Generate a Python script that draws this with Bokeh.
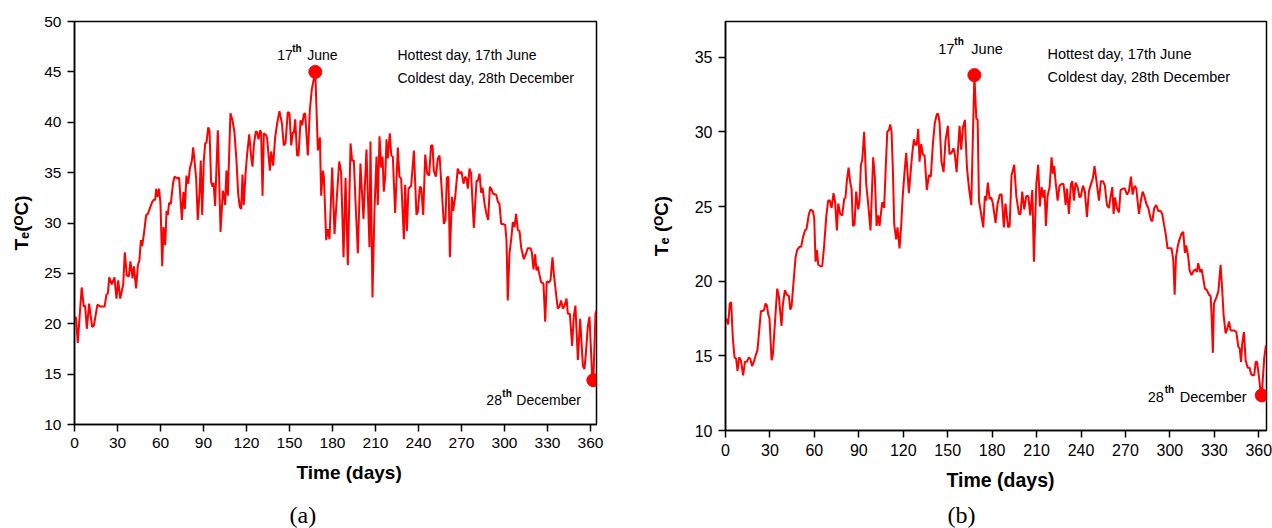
from bokeh.plotting import figure
from bokeh.layouts import row
from bokeh.models import Range1d, FixedTicker, Label, Title
from bokeh.core.properties import value
from bokeh.embed import file_html
from bokeh.resources import INLINE

# ---------------- data ----------------
x_ticks = [0, 30, 60, 90, 120, 150, 180, 210, 240, 270, 300, 330, 360]
y_ticks_a = [10, 15, 20, 25, 30, 35, 40, 45, 50]
y_ticks_b = [10, 15, 20, 25, 30, 35]

days_a = [1.0, 2.3, 5.0, 6.5, 7.4, 8.6, 10.2, 12.3, 13.5, 16.0, 18.0, 21.0, 22.3, 23.3, 24.2, 26.0,
          27.9, 29.3, 30.5, 31.9, 34.0, 35.1, 36.5, 37.9, 39.0, 40.5, 41.4, 43.0, 44.2, 45.3, 46.3,
          47.2, 48.4, 50.0, 51.2, 54.2, 55.3, 56.3, 57.0, 57.9, 59.0, 60.0, 61.2, 62.1, 63.3, 64.2,
          65.1, 66.0, 67.2, 68.8, 69.8, 70.9, 72.1, 73.0, 74.9, 76.0, 77.0, 78.1, 79.3, 80.5, 81.9,
          82.8, 83.7, 84.9, 86.0, 87.2, 88.1, 89.1, 90.2, 91.2, 92.1, 93.3, 94.2, 95.3, 96.3, 97.0,
          98.1, 100.0, 101.9, 103.5, 104.4, 105.1, 106.0, 107.0, 108.8, 110.2, 111.6, 113.0, 114.2,
          115.3, 116.3, 117.2, 118.1, 119.5, 120.5, 121.9, 123.3, 124.2, 125.1, 126.5, 127.4, 128.4,
          129.5, 130.2, 131.2, 132.1, 133.7, 134.4, 136.3, 137.2, 138.6, 140.0, 141.4, 143.0, 144.7,
          146.0, 147.2, 148.8, 150.0, 151.2, 152.3, 153.0, 154.0, 155.3, 156.3, 157.7, 158.8, 160.0,
          160.9, 162.8, 164.2, 165.6, 168.0, 169.8, 171.2, 172.1, 173.3, 174.0, 175.6, 176.7, 177.9,
          179.8, 181.4, 182.6, 184.7, 186.0, 187.7, 189.1, 190.7, 192.6, 193.7, 194.9, 196.0, 197.7,
          199.5, 201.6, 203.7, 205.8, 206.5, 207.9, 209.3, 210.7, 211.6, 212.8, 214.0, 214.9, 215.8,
          216.8, 217.7, 218.6, 220.0, 221.0, 222.1, 223.7, 225.6, 226.7, 227.9, 229.8, 230.7, 231.9,
          233.0, 234.9, 236.8, 238.6, 239.5, 241.0, 241.9, 243.3, 244.7, 246.1, 247.4, 248.8, 249.8,
          250.7, 252.1, 253.5, 254.7, 256.3, 257.7, 258.8, 259.8, 260.9, 261.9, 263.3, 264.2, 265.6,
          267.4, 268.6, 270.0, 271.4, 272.6, 273.5, 274.4, 275.6, 276.7, 278.6, 280.5, 281.4, 282.6,
          283.7, 284.7, 286.1, 287.4, 288.6, 289.8, 290.7, 292.1, 294.2, 295.4, 296.5, 297.7, 298.8,
          300.5, 301.4, 302.3, 303.5, 304.7, 305.8, 307.0, 308.1, 309.3, 310.5, 311.6, 313.5, 315.1,
          316.3, 318.1, 319.1, 320.2, 321.4, 322.3, 323.3, 324.2, 325.6, 327.2, 328.4, 329.5, 330.7,
          332.1, 333.5, 334.4, 335.8, 337.2, 338.4, 339.5, 340.7, 341.9, 343.3, 344.2, 345.6, 347.2,
          348.4, 349.5, 351.2, 352.8, 354.7, 355.8, 357.0, 358.1, 359.3, 361.2, 362.0, 363.5, 364.2]
temp_a = [20.7, 18.1, 23.6, 21.7, 21.8, 19.5, 22.0, 19.7, 19.8, 21.9, 21.7, 21.7, 22.9, 23.0, 24.6, 23.9,
          24.6, 22.5, 24.3, 22.5, 23.9, 27.1, 24.8, 24.7, 26.2, 24.5, 25.7, 23.5, 25.8, 26.3, 28.3,
          27.7, 28.9, 30.8, 30.9, 32.1, 32.3, 32.3, 33.4, 32.6, 33.4, 31.9, 25.7, 29.6, 27.8, 31.2,
          30.8, 32.0, 31.9, 34.0, 34.6, 34.5, 34.4, 34.5, 30.3, 33.1, 31.4, 34.7, 33.9, 35.4, 36.2,
          37.5, 36.2, 34.4, 30.3, 32.9, 36.2, 30.8, 36.2, 37.9, 38.0, 39.5, 39.2, 34.1, 33.6, 34.0,
          31.7, 39.2, 29.1, 33.2, 32.6, 31.8, 35.2, 32.7, 40.9, 40.2, 39.0, 36.2, 32.9,
          31.6, 31.4, 34.8, 31.8, 35.2, 36.9, 38.8, 36.5, 35.6, 37.7, 39.1, 39.0, 38.3,
          39.2, 39.0, 32.7, 38.9, 38.7, 38.4, 35.2, 37.1, 35.7, 38.5, 39.9, 41.1, 39.9,
          37.7, 37.9, 41.0, 40.9, 37.7, 39.0, 38.9, 40.3, 36.7, 36.7, 40.2, 39.7, 40.8,
          40.9, 36.7, 41.2, 43.3, 45.0, 37.2, 38.5, 32.7, 35.2, 34.6, 28.3, 29.4, 28.4,
          35.5, 28.9, 31.6, 36.1, 35.1, 26.6, 34.5, 25.8, 37.9, 36.2, 36.2, 32.3, 27.0,
          35.9, 30.4, 37.3, 27.6, 38.1, 22.6, 31.3, 36.6, 31.8, 38.6, 35.5, 36.6, 33.1,
          34.6, 38.3, 36.4, 38.9, 36.7, 36.6, 31.0, 37.5, 34.6, 34.4, 28.4, 33.8, 29.2,
          33.4, 33.7, 37.2, 30.8, 31.1, 33.6, 33.5, 30.8, 36.8, 34.9, 34.7, 37.7, 37.7,
          35.2, 34.6, 36.4, 36.7, 33.1, 29.9, 30.3, 34.5, 34.6, 26.6, 32.6, 31.2, 32.6,
          35.4, 34.9, 35.1, 33.9, 34.6, 34.4, 33.4, 35.4, 34.9, 29.5, 34.2, 34.2, 34.9,
          33.0, 33.5, 31.9, 30.9, 30.3, 33.6, 33.4, 32.9, 32.8, 32.1, 31.9, 29.9, 29.9,
          29.8, 28.3, 22.3, 27.0, 28.4, 30.1, 29.6, 30.9, 29.3, 29.2, 27.6, 26.4, 27.0,
          27.5, 27.5, 27.1, 25.4, 26.9, 25.3, 25.7, 25.0, 24.1, 24.0, 20.2, 24.2, 24.1,
          24.3, 26.6, 25.0, 23.2, 21.5, 21.7, 22.3, 21.5, 21.8, 22.5, 21.0, 21.0, 17.8,
          20.8, 21.8, 16.4, 20.5, 15.8, 15.5, 17.4, 19.7, 20.7, 14.7, 14.4, 21.0, 21.3]

days_b = [0.5, 1.8, 2.9, 3.8, 5.0, 6.1, 7.2, 8.1, 9.2, 10.4, 11.9, 13.1, 14.4, 15.8, 16.7, 18.0, 19.4,
          20.3, 21.6, 22.5, 23.9, 25.2, 26.1, 27.0, 27.9, 28.8, 29.7, 31.1, 32.0, 33.3, 34.9, 36.0,
          37.8, 38.7, 40.1, 41.4, 42.8, 43.7, 44.6, 45.9, 47.3, 48.4, 50.0, 51.1, 52.2, 53.6, 54.7,
          56.3, 57.4, 59.0, 59.9, 60.8, 61.7, 62.6, 64.1, 65.3, 66.6, 68.0, 69.3, 70.4, 71.6, 72.9,
          74.0, 75.2, 76.1, 77.4, 78.8, 80.1, 81.0, 81.9, 83.1, 84.2, 85.1, 86.0, 87.1, 88.2, 89.6,
          90.5, 91.4, 92.3, 93.6, 95.0, 96.3, 97.9, 99.7, 100.8, 102.0, 103.1, 104.0, 104.9, 105.8,
          107.1, 108.0, 109.2, 110.3, 111.2, 112.1, 113.0, 113.9, 115.2, 116.1, 117.5, 118.6, 119.7,
          121.1, 122.0, 122.9, 123.8, 124.9, 126.0, 127.2, 128.3, 129.2, 130.1, 131.0, 132.1, 133.2,
          134.4, 135.0, 135.9, 137.3, 138.6, 140.0, 141.3, 142.7, 143.6, 144.5, 145.8, 147.2, 148.5,
          150.1, 151.2, 152.6, 153.9, 154.8, 156.0, 156.9, 158.0, 159.1, 160.3, 161.6, 163.0, 164.3,
          165.9, 168.0, 169.3, 170.2, 171.1, 172.4, 174.0, 175.1, 176.0, 177.1, 178.3, 179.4, 180.5,
          182.3, 183.7, 185.2, 186.4, 187.9, 189.0, 190.8, 191.8, 193.1, 194.9, 196.3, 198.1, 199.2,
          200.3, 201.7, 203.0, 204.4, 205.7, 207.1, 208.2, 209.8, 211.1, 212.2, 213.4, 214.5, 215.4,
          216.3, 217.4, 218.8, 220.1, 221.0, 221.9, 222.8, 224.2, 225.5, 226.9, 228.2, 229.6, 230.5,
          231.8, 233.2, 234.1, 235.2, 236.3, 237.7, 239.0, 239.9, 241.3, 242.6, 244.0, 245.3, 246.7,
          248.0, 249.1, 250.3, 252.1, 253.4, 254.8, 256.1, 257.5, 258.8, 260.2, 261.1, 262.0, 262.9,
          264.2, 265.6, 266.7, 268.3, 269.6, 271.0, 272.3, 273.7, 274.8, 276.2, 277.3, 279.1, 280.4,
          281.6, 282.7, 284.0, 285.4, 287.2, 288.1, 289.4, 290.8, 292.1, 293.7, 294.8, 296.0, 297.1,
          298.4, 299.8, 301.1, 302.3, 303.2, 304.1, 305.4, 306.5, 307.9, 309.0, 310.1, 311.0, 312.4,
          313.3, 314.6, 316.0, 317.3, 318.2, 319.1, 320.5, 321.4, 322.3, 323.6, 325.0, 326.3, 327.5,
          328.1, 329.0, 329.7, 331.3, 332.7, 334.2, 335.3, 336.2, 337.6, 338.7, 339.9, 341.0, 342.1,
          343.5, 344.8, 346.2, 347.1, 348.0, 348.9, 350.0, 351.1, 352.5, 353.8, 354.7, 355.6, 356.9,
          357.9, 358.8, 360.1, 361.2, 362.0, 363.7, 364.8]
temp_b = [17.5, 17.1, 18.5, 18.6, 16.1, 14.9, 14.8, 14.0, 14.9, 14.7, 13.7, 14.6, 14.6, 14.9, 14.8, 14.3, 14.7,
          15.0, 15.4, 16.4, 18.0, 18.0, 18.1, 18.5, 18.4, 17.8, 17.5, 14.7, 15.1, 17.1, 19.5, 19.0,
          17.0, 18.4, 19.4, 19.1, 19.0, 18.1, 18.3, 19.9, 21.6, 22.1, 22.3, 22.3, 22.9, 23.4, 23.5,
          24.5, 24.8, 24.7, 24.2, 21.3, 22.1, 21.1, 21.0, 21.0, 22.4, 24.3, 25.4, 25.4, 24.9, 25.9,
          25.3, 23.4, 25.2, 24.5, 24.4, 25.5, 25.6, 26.7, 27.6, 26.6, 26.2, 23.7, 23.8, 26.0, 24.8,
          25.4, 27.8, 28.1, 30.0, 26.5, 25.2, 23.4, 28.3, 27.0, 23.7, 24.4, 23.7, 24.5, 25.3,
          24.9, 27.2, 30.0, 30.1, 30.5, 30.0, 27.4, 23.8, 22.8, 23.6, 22.2, 23.7, 25.8,
          27.6, 28.6, 27.2, 25.9, 27.2, 28.5, 29.5, 29.1, 29.2, 30.2, 28.0, 29.2, 28.5,
          28.4, 27.5, 26.1, 27.1, 27.0, 29.2, 30.6, 31.2, 31.2, 30.6, 28.0, 27.3, 29.4,
          30.4, 28.5, 28.6, 28.9, 28.5, 27.3, 28.7, 30.4, 28.8, 30.3, 30.8, 27.6, 26.3,
          25.1, 33.8, 30.9, 30.8, 25.4, 24.6, 23.6, 25.7, 25.4, 26.6, 25.5, 25.6, 25.2,
          23.9, 25.2, 25.8, 25.8, 23.6, 25.2, 23.6, 23.7, 27.1, 27.8, 25.7, 24.5, 24.5,
          26.0, 24.8, 25.7, 25.7, 24.4, 26.1, 21.3, 26.5, 27.8, 25.0, 26.3, 25.6, 26.1,
          23.7, 25.7, 26.3, 28.3, 27.2, 27.7, 26.7, 25.4, 26.4, 26.5, 26.5, 25.1, 26.2,
          24.5, 26.5, 26.7, 25.4, 26.6, 26.3, 25.6, 25.7, 26.4, 26.0, 24.3, 26.0, 26.5,
          26.9, 27.7, 26.8, 25.4, 26.7, 26.7, 26.4, 25.1, 24.9, 25.8, 26.3, 24.5, 25.6,
          24.9, 24.6, 26.1, 26.2, 26.2, 25.8, 26.0, 27.0, 25.8, 26.4, 26.2, 24.5, 25.4,
          26.0, 25.7, 25.2, 24.9, 24.1, 24.0, 24.9, 25.1, 24.7, 24.7, 24.5, 23.8, 23.2,
          22.2, 22.2, 22.2, 21.4, 19.1, 21.6, 22.4, 22.8, 23.2, 23.3, 21.9, 22.4, 21.6,
          20.7, 20.4, 20.7, 20.8, 20.6, 21.2, 20.6, 20.8, 20.3, 19.5, 19.4, 19.1, 19.0,
          17.8, 15.2, 18.5, 18.9, 19.3, 21.1, 19.4, 17.8, 16.5, 16.8, 17.3, 16.7, 16.7,
          16.7, 16.6, 15.6, 15.5, 14.6, 15.9, 16.6, 14.7, 14.2, 14.2, 13.8, 13.7, 13.7,
          14.6, 14.6, 13.6, 12.6, 12.35, 14.9, 15.7]

hot_day_a, hot_temp_a = [168], [45.0]
cold_day_a, cold_temp_a = [362], [14.4]
hot_day_b, hot_temp_b = [168], [33.8]
cold_day_b, cold_temp_b = [362], [12.35]

hot_label = ["17", "th", "June"]
cold_label = ["28", "th", "December"]
info_lines = ["Hottest day, 17th June", "Coldest day, 28th December"]
x_title = "Time (days)"
y_title_a = "Tₑ(ᴼC)"
y_title_b = "Tₑ (ᴼC)"
panel_tags = ["(a)", "(b)"]

FONT = "Liberation Sans"
RED = "#ff0000"


def style(p, y_ticks, tick_size, ylab_standoff):
    p.background_fill_color = "white"
    p.border_fill_color = "white"
    p.outline_line_color = "black"
    p.outline_line_width = 1.5
    p.xgrid.grid_line_color = None
    p.ygrid.grid_line_color = None
    p.xaxis.ticker = FixedTicker(ticks=x_ticks)
    p.yaxis.ticker = FixedTicker(ticks=y_ticks)
    for ax in (p.xaxis, p.yaxis):
        ax.axis_line_width = 1.5
        ax.axis_line_color = "black"
        ax.major_tick_line_width = 1.5
        ax.major_tick_line_color = "black"
        ax.major_tick_in = 0
        ax.major_tick_out = 7
        ax.minor_tick_line_color = None
        ax.major_label_text_font = FONT
        ax.major_label_text_font_size = tick_size
        ax.major_label_text_color = "black"
    p.xaxis.major_label_standoff = 6
    p.yaxis.major_label_standoff = 6
    p.yaxis.axis_label_text_font = FONT
    p.yaxis.axis_label_text_font_style = "bold"
    p.yaxis.axis_label_text_font_size = "19px"
    p.yaxis.axis_label_text_color = "black"
    p.yaxis.axis_label_standoff = ylab_standoff


def sup_label(p, x, y, parts, offs, size, sup_size):
    # parts: base, superscript, rest ; offs: (x0, x1, x2, y_base, sup_raise)
    x0, x1, x2, yb, raise_ = offs
    common = dict(text_font=value(FONT), text_color="black", text_baseline="alphabetic",
                  text_align="left")
    p.text(x=x, y=y, text=[parts[0]], x_offset=x0, y_offset=yb, text_font_size=size, **common)
    p.text(x=x, y=y, text=[parts[1]], x_offset=x1, y_offset=yb - raise_, text_font_size=sup_size,
           text_font_style="bold", **common)
    p.text(x=x, y=y, text=[parts[2]], x_offset=x2, y_offset=yb, text_font_size=size, **common)


def make_panel(days, temps, hot_d, hot_t, cold_d, cold_t, y_ticks, y_end, x_end, ytitle, tag,
               geom, hot_offs, cold_offs, info_pos, xlab, tagpos, tick_size, ylab_standoff,
               font_main, spacer, xlab_size):
    fw, fh, bl, br, bt, bb = geom
    p = figure(frame_width=fw, frame_height=fh, min_border_left=bl, min_border_right=br,
               min_border_top=bt, min_border_bottom=bb,
               x_range=Range1d(0, x_end), y_range=Range1d(10, y_end),
               output_backend="svg", toolbar_location=None)
    style(p, y_ticks, tick_size, ylab_standoff)
    p.yaxis.axis_label = ytitle
    p.line(days, temps, line_color=RED, line_width=2)
    p.scatter(hot_d, hot_t, size=13, color=RED)
    p.scatter(cold_d, cold_t, size=13, color=RED)
    sup_label(p, hot_d, hot_t, hot_label, hot_offs, font_main, "10px")
    sup_label(p, cold_d, cold_t, cold_label, cold_offs, font_main, "10px")
    ix, iy0, iy1 = info_pos
    for txt, yy in zip(info_lines, (iy0, iy1)):
        p.add_layout(Label(x=ix, y=yy, x_units="screen", y_units="screen", text=txt,
                           text_font=FONT, text_font_size=font_main, text_color="black",
                           text_baseline="alphabetic", text_align="left"))
    # x-axis title and panel tag, stacked below the axis
    p.add_layout(Title(text=x_title, align="left", offset=xlab[0], standoff=xlab[1],
                       vertical_align="top", text_font=FONT, text_font_size=xlab_size,
                       text_font_style="bold", text_color="black"), "below")
    p.add_layout(Title(text=" ", text_font_size="1px", standoff=spacer), "below")
    p.add_layout(Title(text=tag, align="left", offset=tagpos[0], standoff=tagpos[1],
                       vertical_align="bottom", text_font="Liberation Serif",
                       text_font_size="24px", text_font_style="normal",
                       text_color="black"), "below")
    return p


pa = make_panel(days_a, temp_a, hot_day_a, hot_temp_a, cold_day_a, cold_temp_a, y_ticks_a, 50,
                364.2, y_title_a, panel_tags[0],
                (522, 403, 74, 40, 21, 104),
                (-38, -23, -8, -17, 6.5),
                (-107, -91, -77, 20, 7),
                (323, 369.7, 346.7), (222, 22), (215, -14), "15.5px", 9, "14px", 7.5, "19px")

pb = make_panel(days_b, temp_b, hot_day_b, hot_temp_b, cold_day_b, cold_temp_b, y_ticks_b, 37.39,
                365.2, y_title_b, panel_tags[1],
                (541, 409, 89, 6, 21, 98),
                (-36, -20, -3, -26.5, 7.5),
                (-114, -97, -82, 1.7, 7.5),
                (322, 376.7, 353.3), (221, 21), (222, -14), "16px", 20, "14.5px", 0, "19.5px")

layout = row(pa, pb)
open("out.html", "w").write(file_html(layout, INLINE))
